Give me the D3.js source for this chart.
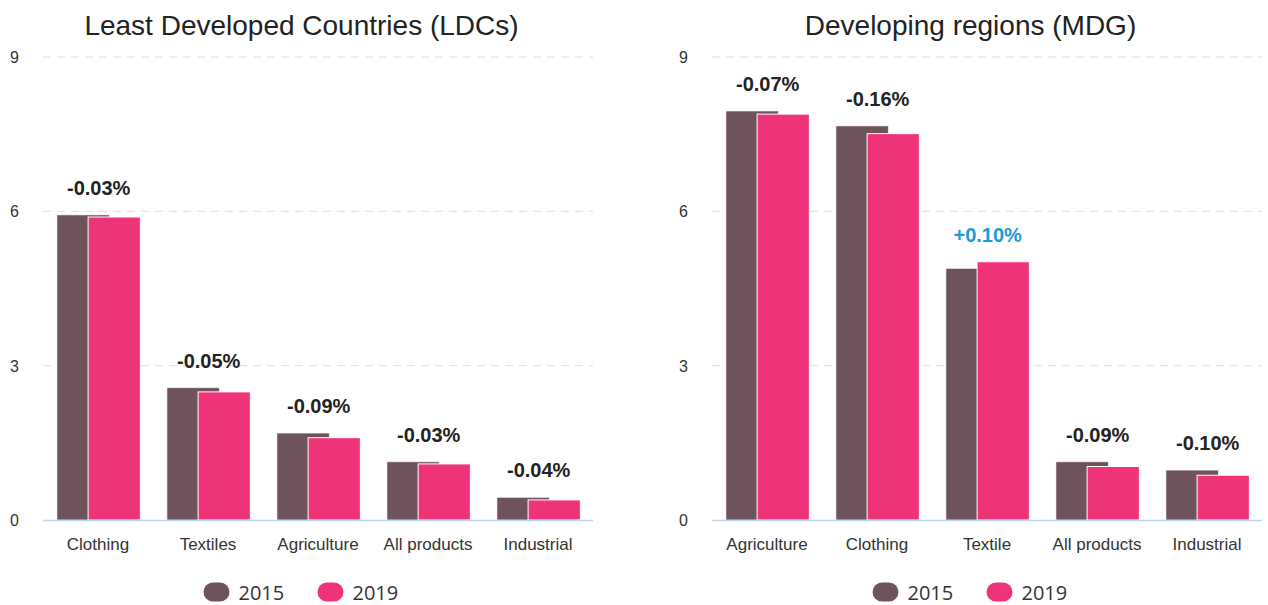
<!DOCTYPE html>
<html>
<head>
<meta charset="utf-8">
<script src="https://cdn.jsdelivr.net/npm/d3@7"></script>
<style>
  body { margin: 0; background: #fff; }
  svg { display: block; }
</style>
</head>
<body>
<svg width="1268" height="605"></svg>
<script>
const series = ['2015', '2019']
const yTicks = [0, 3, 6, 9]

const ldcTitle = 'Least Developed Countries (LDCs)'
const ldcCategories = ['Clothing', 'Textiles', 'Agriculture', 'All products', 'Industrial']
const ldc2015 = [5.93, 2.57, 1.69, 1.13, 0.44]
const ldc2019 = [5.89, 2.49, 1.60, 1.09, 0.39]
const ldcChange = ['-0.03%', '-0.05%', '-0.09%', '-0.03%', '-0.04%']

const mdgTitle = 'Developing regions (MDG)'
const mdgCategories = ['Agriculture', 'Clothing', 'Textile', 'All products', 'Industrial']
const mdg2015 = [7.95, 7.66, 4.89, 1.13, 0.97]
const mdg2019 = [7.89, 7.51, 5.02, 1.04, 0.87]
const mdgChange = ['-0.07%', '-0.16%', '+0.10%', '-0.09%', '-0.10%']

const colors = {'2015': '#6e535a', '2019': '#ee3379'}
const height = 605
const margin = {top: 57, bottom: 85}
const sans = "'Liberation Sans', Arial, Helvetica, sans-serif"

const svg = d3.select('svg')

function drawPanel(left, right, title, cats, v2015, v2019, changes) {
  const g = svg.append('g')
  const data = cats.map((c, i) => ({name: c, v2015: v2015[i], v2019: v2019[i], change: changes[i]}))

  const x = d3.scaleBand().domain(cats).range([left, right])
  const y = d3.scaleLinear().domain([0, 9]).range([height - margin.bottom, margin.top])
  const step = x.step()
  const bw = step * 0.475
  const off = {'2015': step * 0.127, '2019': step * 0.41}

  // grid lines
  g.append('g')
    .selectAll('line')
    .data(yTicks.filter(d => d > 0))
    .join('line')
      .attr('x1', left).attr('x2', right)
      .attr('y1', d => y(d)).attr('y2', d => y(d))
      .attr('stroke', '#dddddd')
      .attr('stroke-dasharray', '8,6')

  // y axis labels
  g.append('g')
    .selectAll('text')
    .data(yTicks)
    .join('text')
      .attr('x', left - 33)
      .attr('y', d => y(d) + 6)
      .style('font-family', sans)
      .attr('font-size', 16)
      .attr('fill', '#333')
      .text(d => d)

  // bars, 2015 behind 2019
  g.append('g')
    .selectAll('rect')
    .data(data)
    .join('rect')
      .attr('x', d => x(d.name) + off['2015'])
      .attr('y', d => y(d.v2015))
      .attr('width', bw)
      .attr('height', d => y(0) - y(d.v2015))
      .attr('fill', colors['2015'])
      .attr('stroke', '#f4eef0')
      .attr('stroke-width', 0.6)

  g.append('g')
    .selectAll('rect')
    .data(data)
    .join('rect')
      .attr('x', d => x(d.name) + off['2019'])
      .attr('y', d => y(d.v2019))
      .attr('width', bw)
      .attr('height', d => y(0) - y(d.v2019))
      .attr('fill', colors['2019'])
      .attr('stroke', '#fff')
      .attr('stroke-width', 1)

  // baseline
  g.append('line')
    .attr('x1', left).attr('x2', right)
    .attr('y1', y(0) + 0.5).attr('y2', y(0) + 0.5)
    .attr('stroke', '#bcd8ec')
    .attr('stroke-width', 1.5)

  // change labels
  g.append('g')
    .selectAll('text')
    .data(data)
    .join('text')
      .attr('x', d => x(d.name) + (off['2015'] + off['2019'] + bw) / 2)
      .attr('y', d => y(Math.max(d.v2015, d.v2019)) - 20)
      .attr('text-anchor', 'middle')
      .style('font-family', sans)
      .attr('font-weight', 'bold')
      .attr('font-size', 20)
      .attr('fill', d => d.change.startsWith('+') ? '#1a9bd7' : '#222')
      .text(d => d.change)

  // category labels
  g.append('g')
    .selectAll('text')
    .data(cats)
    .join('text')
      .attr('x', d => x(d) + x.bandwidth() / 2)
      .attr('y', y(0) + 30)
      .attr('text-anchor', 'middle')
      .style('font-family', sans)
      .attr('font-size', 17)
      .attr('fill', '#333')
      .text(d => d)

  // title
  const cx = (left - 33 + right) / 2
  g.append('text')
    .attr('x', cx)
    .attr('y', 35)
    .attr('text-anchor', 'middle')
    .style('font-family', sans)
    .attr('font-size', 28)
    .attr('fill', '#222')
    .text(title)

  // legend
  const legend = g.append('g').attr('transform', `translate(${cx - 98}, 592)`)
  const item = legend.selectAll('g')
    .data(series)
    .join('g')
      .attr('transform', (d, i) => `translate(${i * 114}, 0)`)
  item.append('rect')
    .attr('x', 0).attr('y', -9.5)
    .attr('width', 26).attr('height', 19)
    .attr('rx', 9.5)
    .attr('fill', d => colors[d])
  item.append('text')
    .attr('x', 35)
    .attr('y', 8)
    .style('font-family', "'Open Sans', sans-serif")
    .attr('font-size', 20)
    .attr('fill', '#333')
    .text(d => d)
}

drawPanel(43, 593, ldcTitle, ldcCategories, ldc2015, ldc2019, ldcChange)
drawPanel(712, 1262, mdgTitle, mdgCategories, mdg2015, mdg2019, mdgChange)
</script>
</body>
</html>
